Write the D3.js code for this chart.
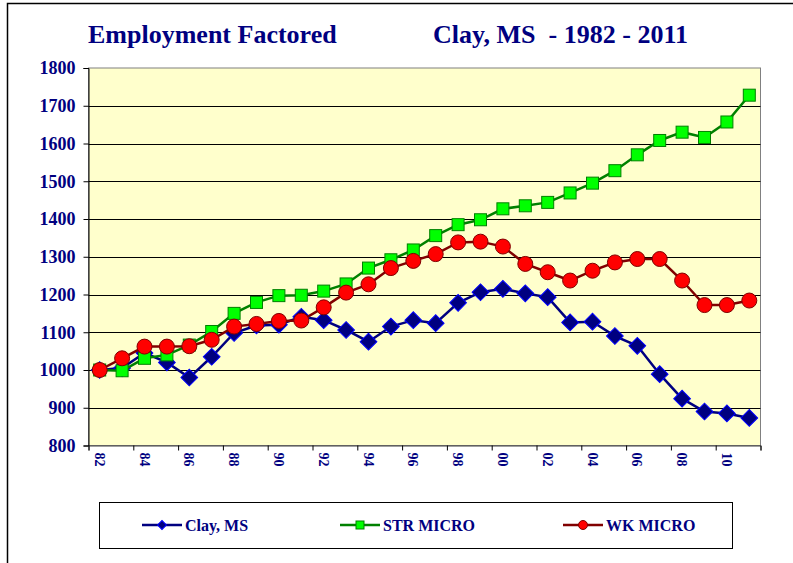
<!DOCTYPE html>
<html>
<head>
<meta charset="utf-8">
<script src="https://cdn.jsdelivr.net/npm/d3@7"></script>
<style>
  body { margin: 0; background: #fff; }
  text { font-family: "Liberation Serif", "Times New Roman", serif; font-weight: bold; fill: #000080; }
</style>
</head>
<body>
<svg id="chart" width="793" height="563"></svg>
<script>
// years 1982 - 2011
var years = d3.range(1982, 2012);
var clay = [1000, 1005, 1045, 1020, 980, 1035, 1098, 1118, 1120, 1141, 1132, 1106, 1075, 1115, 1132, 1124,
            1178, 1206, 1215, 1203, 1193, 1126, 1128, 1090, 1064, 989, 924, 890, 885, 873];
var strMicro = [1000, 998, 1031, 1040, 1066, 1102, 1150, 1179, 1197, 1198, 1209, 1228, 1270, 1292, 1318, 1356,
                1385, 1398, 1427, 1435, 1444, 1469, 1495, 1528, 1570, 1608, 1630, 1616, 1657, 1728];
var wkMicro = [1000, 1031, 1062, 1062, 1063, 1080, 1115, 1122, 1130, 1131, 1166, 1205, 1227, 1270, 1289, 1307,
               1338, 1340, 1327, 1281, 1259, 1237, 1263, 1285, 1294, 1294, 1237, 1172, 1172, 1184];
var yTicks = [800, 900, 1000, 1100, 1200, 1300, 1400, 1500, 1600, 1700, 1800];
var xLabels = ["82", "84", "86", "88", "90", "92", "94", "96", "98", "00", "02", "04", "06", "08", "10"];
var seriesNames = ["Clay, MS", "STR MICRO", "WK MICRO"];

var svg = d3.select("#chart");

var LEFT = 88.5, RIGHT = 760.5, TOP = 68, BOTTOM = 445.5;

// outer frame
svg.append("rect")
    .attr("x", 7.5).attr("y", 3.5)
    .attr("width", 820).attr("height", 600)
    .attr("fill", "#fff").attr("stroke", "#000").attr("stroke-width", 1.5);

// titles
svg.append("text").attr("x", 88).attr("y", 43)
    .style("font-size", "26px").text("Employment Factored");
svg.append("text").attr("x", 433).attr("y", 43)
    .style("font-size", "26px").attr("xml:space", "preserve")
    .text("Clay, MS  - 1982 - 2011");

var x = d3.scaleLinear().domain([0, years.length]).range([LEFT, RIGHT]);
var y = d3.scaleLinear().domain([800, 1800]).range([BOTTOM, TOP]);

// plot area
svg.append("rect")
    .attr("x", LEFT).attr("y", TOP)
    .attr("width", RIGHT - LEFT).attr("height", BOTTOM - TOP)
    .attr("fill", "#FFFFCC").attr("stroke", "#808080").attr("stroke-width", 1);

// gridlines
svg.append("g").selectAll("line")
    .data(yTicks.slice(1, -1))
    .enter().append("line")
    .attr("x1", LEFT).attr("x2", RIGHT)
    .attr("y1", function(d) { return Math.round(y(d)) + 0.5; })
    .attr("y2", function(d) { return Math.round(y(d)) + 0.5; })
    .attr("stroke", "#000").attr("stroke-width", 1);

// y axis
var yAxis = svg.append("g")
    .attr("transform", "translate(" + LEFT + ",0)")
    .call(d3.axisLeft(y).tickValues(yTicks).tickSize(5).tickPadding(8).tickFormat(d3.format("d")));
yAxis.select(".domain").attr("stroke", "#000");
yAxis.selectAll(".tick line").attr("stroke", "#000");
yAxis.selectAll("text").style("font-size", "18px").attr("fill", "#000080")
    .attr("font-family", null);

// x axis, ticks between categories every 2 years
var tickIdx = d3.range(0, years.length + 1, 2);
var xAxis = svg.append("g")
    .attr("transform", "translate(0," + BOTTOM + ")")
    .call(d3.axisBottom(x).tickValues(tickIdx).tickSize(5).tickFormat(""));
xAxis.select(".domain").attr("stroke", "#404040");
xAxis.selectAll(".tick line").attr("stroke", "#000");

svg.append("g").selectAll("text")
    .data(xLabels)
    .enter().append("text")
    .attr("transform", function(d, i) {
        return "translate(" + x(i * 2 + 0.5) + "," + (BOTTOM + 7) + ") rotate(90)";
    })
    .attr("dy", "0.35em")
    .style("font-size", "14px")
    .text(function(d) { return d; });

function cx(d, i) { return x(i + 0.5); }

var line = d3.line()
    .x(function(d, i) { return x(i + 0.5); })
    .y(function(d) { return y(d); });

// Clay, MS
svg.append("path").datum(clay)
    .attr("d", line).attr("fill", "none")
    .attr("stroke", "#000080").attr("stroke-width", 2.5);
svg.append("g").selectAll("path")
    .data(clay).enter().append("path")
    .attr("d", d3.symbol(d3.symbolSquare, 140))
    .attr("transform", function(d, i) { return "translate(" + cx(d, i) + "," + y(d) + ") rotate(45)"; })
    .attr("fill", "#000080").attr("stroke", "#0000FF").attr("stroke-width", 1);

// STR MICRO
svg.append("path").datum(strMicro)
    .attr("d", line).attr("fill", "none")
    .attr("stroke", "#008000").attr("stroke-width", 2.5);
svg.append("g").selectAll("rect")
    .data(strMicro).enter().append("rect")
    .attr("x", function(d, i) { return cx(d, i) - 6; })
    .attr("y", function(d) { return y(d) - 6; })
    .attr("width", 12).attr("height", 12)
    .attr("fill", "#00FF00").attr("stroke", "#008000").attr("stroke-width", 1);

// WK MICRO
svg.append("path").datum(wkMicro)
    .attr("d", line).attr("fill", "none")
    .attr("stroke", "#800000").attr("stroke-width", 2.5);
svg.append("g").selectAll("circle")
    .data(wkMicro).enter().append("circle")
    .attr("cx", cx)
    .attr("cy", function(d) { return y(d); })
    .attr("r", 7.5)
    .attr("fill", "#FF0000").attr("stroke", "#800000").attr("stroke-width", 1);

// legend
svg.append("rect")
    .attr("x", 99.5).attr("y", 502.5).attr("width", 633).attr("height", 46)
    .attr("fill", "#fff").attr("stroke", "#000").attr("stroke-width", 1);

var legendX = [142, 340, 563];
var legendColors = ["#000080", "#008000", "#800000"];
var LY = 525;
var lg = svg.append("g").selectAll("g")
    .data(seriesNames).enter().append("g")
    .attr("transform", function(d, i) { return "translate(" + legendX[i] + "," + LY + ")"; });
lg.append("line")
    .attr("x1", 0).attr("x2", 40).attr("y1", 0).attr("y2", 0)
    .attr("stroke", function(d, i) { return legendColors[i]; })
    .attr("stroke-width", 2.5);
lg.each(function(d, i) {
    var g = d3.select(this);
    if (i === 0) {
        g.append("path").attr("d", d3.symbol(d3.symbolSquare, 40))
            .attr("transform", "translate(20,0) rotate(45)")
            .attr("fill", "#000080").attr("stroke", "#0000FF").attr("stroke-width", 1);
    } else if (i === 1) {
        g.append("rect").attr("x", 16).attr("y", -4).attr("width", 8).attr("height", 8)
            .attr("fill", "#00FF00").attr("stroke", "#008000").attr("stroke-width", 1);
    } else {
        g.append("circle").attr("cx", 20).attr("cy", 0).attr("r", 4.5)
            .attr("fill", "#FF0000").attr("stroke", "#800000").attr("stroke-width", 1);
    }
});
lg.append("text")
    .attr("x", 43).attr("y", 0).attr("dy", "0.35em")
    .style("font-size", "16px")
    .text(function(d) { return d; });
</script>
</body>
</html>
